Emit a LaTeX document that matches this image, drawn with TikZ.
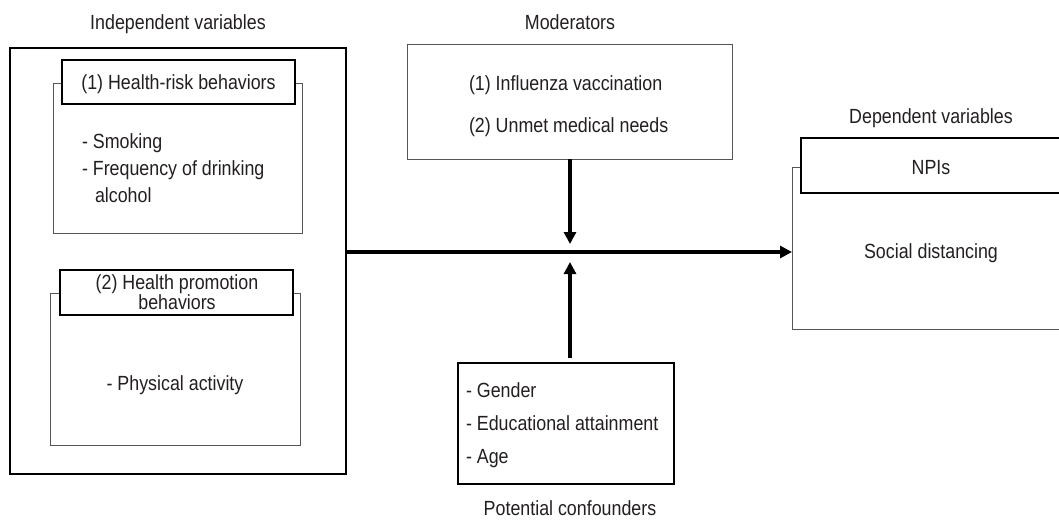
\documentclass[tikz,border=0pt]{standalone}
\usepackage{fontspec}
\setmainfont{Liberation Sans}[FakeStretch=0.87]
\usetikzlibrary{arrows.meta}
\definecolor{txt}{HTML}{231F20}
\definecolor{thin}{HTML}{555555}
\tikzset{
  every node/.style={font=\fontsize{20.5}{24}\selectfont, text=txt, inner sep=0pt, outer sep=0pt},
  outerbox/.style={draw=black, line width=1.8pt},
  innerbox/.style={draw=thin, line width=0.9pt},
  headbox/.style={draw=black, line width=1.8pt, fill=white},
  thickarrow/.style={line width=3.2pt, -{Triangle[length=12pt,width=12pt]}},
}
\begin{document}
\begin{tikzpicture}[x=1pt,y=-1pt]
\useasboundingbox (0,0) rectangle (1059,519);
\clip (0,0) rectangle (1059,519);

% Independent variables
\node[anchor=base] (ivlabel) at (178,30) {Independent variables};
\node[outerbox, minimum width=336pt, minimum height=426pt] (iv) at (178,261) {};
\node[innerbox, minimum width=249pt, minimum height=150pt] (hrin) at (177.5,158) {};
\node[headbox, minimum width=233pt, minimum height=44pt] (hrhead) at (178.5,82) {};
\node[anchor=base] (hrtxt) at (178.5,89) {(1) Health-risk behaviors};
\node[anchor=base west] (smk) at (82,148) {- Smoking};
\node[anchor=base west] (frq) at (82,175) {- Frequency of drinking};
\node[anchor=base west] (alc) at (95,202) {alcohol};

\node[innerbox, minimum width=250pt, minimum height=152pt] (hpin) at (175,369) {};
\node[headbox, minimum width=233pt, minimum height=45pt] (hphead) at (176.5,292.5) {};
\node[anchor=base] (hptxt1) at (177,289) {(2) Health promotion};
\node[anchor=base] (hptxt2) at (177,309.5) {behaviors};
\node[anchor=base] (pa) at (175,390) {- Physical activity};

% Moderators
\node[anchor=base] (modlabel) at (570,30) {Moderators};
\node[draw=thin, line width=1pt, minimum width=325pt, minimum height=114pt] (mod) at (569.5,102) {};
\node[anchor=base west] (mod1) at (469,90) {(1) Influenza vaccination};
\node[anchor=base west] (mod2) at (469,132) {(2) Unmet medical needs};

% Potential confounders
\node[draw=black, line width=1.5pt, minimum width=216pt, minimum height=121pt] (conf) at (566,423.5) {};
\node[anchor=base west] (c1) at (466,397) {- Gender};
\node[anchor=base west] (c2) at (466,430) {- Educational attainment};
\node[anchor=base west] (c3) at (466,463) {- Age};
\node[anchor=base] (conflabel) at (570,515) {Potential confounders};

% Dependent variables
\node[anchor=base] (dvlabel) at (931,123) {Dependent variables};
\node[innerbox, minimum width=308pt, minimum height=162pt] (dv) at (946,248) {};
\node[headbox, minimum width=299pt, minimum height=55pt] (npihead) at (950.5,165.5) {};
\node[anchor=base] (npi) at (931,174) {NPIs};
\node[anchor=base] (sd) at (931,258) {Social distancing};

% Connectors
\coordinate (mid) at (570,252);
\coordinate (midtop) at (570,244);
\coordinate (midbot) at (570,262);
\coordinate (confstart) at (570,358);
\draw[thickarrow] (iv.east |- mid) -- (dv.west |- mid);
\draw[thickarrow] (mod.south -| mid) -- (midtop);
\draw[thickarrow] (confstart) -- (midbot);
\end{tikzpicture}
\end{document}
